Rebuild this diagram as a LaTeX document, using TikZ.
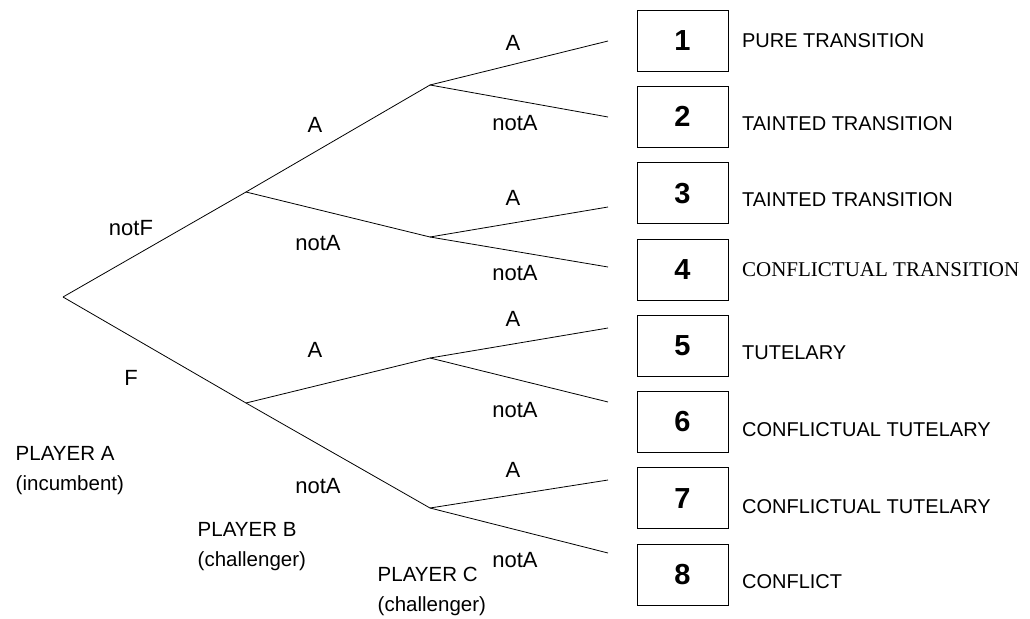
\documentclass[tikz,border=0pt]{standalone}
\usepackage{fontspec}
\setmainfont{Liberation Sans}
\newfontfamily\seriffam{Liberation Serif}
\usetikzlibrary{positioning}

\begin{document}
\begin{tikzpicture}[x=1pt,y=-1pt,line width=0.8pt,
  outcome/.style={draw,minimum width=91pt,minimum height=61pt,inner sep=0pt,
    font=\fontsize{29}{29}\selectfont\bfseries},
  move/.style={font=\fontsize{22}{22}\selectfont},
  result/.style={right=10pt of #1,anchor=west,font=\fontsize{20}{20}\selectfont},
  player/.style={anchor=west,align=left,font=\fontsize{20.5}{30}\selectfont}]
  \useasboundingbox (0,0) rectangle (1030,618);

  % --- Decision points ---
  \coordinate (root) at (63,297);
  \coordinate (b1) at (246,192);
  \coordinate (b2) at (246,403);
  \coordinate (c1) at (430,85);
  \coordinate (c2) at (430,237);
  \coordinate (c3) at (430,358);
  \coordinate (c4) at (430,508);

  % --- Ends of the last branches ---
  \coordinate (e1) at (608,41);
  \coordinate (e2) at (608,117);
  \coordinate (e3) at (608,207);
  \coordinate (e4) at (608,267);
  \coordinate (e5) at (608,328);
  \coordinate (e6) at (608,402);
  \coordinate (e7) at (608,480);
  \coordinate (e8) at (608,553);

  % --- Outcome boxes ---
  \node (o1) [outcome] at (682.5,40.5) {1};
  \node (o2) [outcome,below=14.5pt of o1] {2};
  \node (o3) [outcome,below=14.5pt of o2] {3};
  \node (o4) [outcome,below=14.5pt of o3] {4};
  \node (o5) [outcome,below=14.5pt of o4] {5};
  \node (o6) [outcome,below=14.5pt of o5] {6};
  \node (o7) [outcome,below=14.5pt of o6] {7};
  \node (o8) [outcome,below=14.5pt of o7] {8};

  % --- Outcome names ---
  \node (r1) [result=o1] {PURE TRANSITION};
  \node (r2) [result=o2,yshift=-7pt] {TAINTED TRANSITION};
  \node (r3) [result=o3,yshift=-7pt] {TAINTED TRANSITION};
  \node (r4) [result=o4,font=\fontsize{21}{21}\seriffam] {CONFLICTUAL TRANSITION};
  \node (r5) [result=o5,yshift=-7pt] {TUTELARY};
  \node (r6) [result=o6,yshift=-8pt] {CONFLICTUAL TUTELARY};
  \node (r7) [result=o7,yshift=-8pt] {CONFLICTUAL TUTELARY};
  \node (r8) [result=o8,yshift=-7pt] {CONFLICT};

  % --- Branches ---
  \draw (root) -- (b1);
  \draw (root) -- (b2);
  \draw (b1) -- (c1);
  \draw (b1) -- (c2);
  \draw (b2) -- (c3);
  \draw (b2) -- (c4);
  \draw (c1) -- (e1);
  \draw (c1) -- (e2);
  \draw (c2) -- (e3);
  \draw (c2) -- (e4);
  \draw (c3) -- (e5);
  \draw (c3) -- (e6);
  \draw (c4) -- (e7);
  \draw (c4) -- (e8);

  % --- Move labels ---
  \node (mnotf) [move] at (131,228) {notF};
  \node (mf) [move] at (131,378) {F};
  \node (mb1a) [move] at (315,125) {A};
  \node (mb1n) [move] at (318,243) {notA};
  \node (mb2a) [move] at (315,350) {A};
  \node (mb2n) [move] at (318,486) {notA};
  \node (mc1a) [move] at (513,43) {A};
  \node (mc1n) [move] at (515,123) {notA};
  \node (mc2a) [move] at (513,198) {A};
  \node (mc2n) [move] at (515,273) {notA};
  \node (mc3a) [move] at (513,319) {A};
  \node (mc3n) [move] at (515,410) {notA};
  \node (mc4a) [move] at (513,470) {A};
  \node (mc4n) [move] at (515,560) {notA};

  % --- Players ---
  \node (pa) [player] at (12,471) {PLAYER A\\(incumbent)};
  \node (pb) [player] at (194,547) {PLAYER B\\(challenger)};
  \node (pc) [player] at (374,591) {PLAYER C\\(challenger)};
\end{tikzpicture}
\end{document}
